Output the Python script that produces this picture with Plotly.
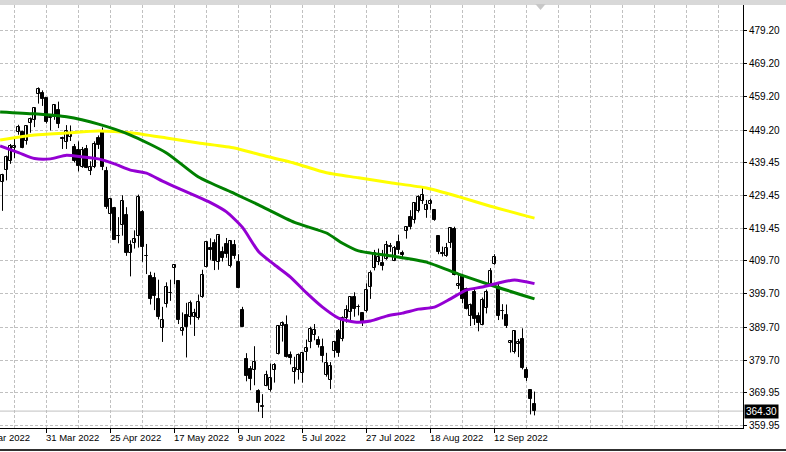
import plotly.graph_objects as go

# ---------------- data ----------------
dates = (
    ["2022-03-%02d" % d for d in [16, 17, 18, 21, 22, 23, 24, 25, 28, 29, 30, 31]]
    + ["2022-04-%02d" % d for d in [1, 4, 5, 6, 7, 8, 11, 12, 13, 14, 18, 19, 20, 21, 22, 25, 26, 27, 28, 29]]
    + ["2022-05-%02d" % d for d in [2, 3, 4, 5, 6, 9, 10, 11, 12, 13, 16, 17, 18, 19, 20, 23, 24, 25, 26, 27, 31]]
    + ["2022-06-%02d" % d for d in [1, 2, 3, 6, 7, 8, 9, 10, 13, 14, 15, 16, 17, 21, 22, 23, 24, 27, 28, 29, 30]]
    + ["2022-07-%02d" % d for d in [1, 5, 6, 7, 8, 11, 12, 13, 14, 15, 18, 19, 20, 21, 22, 25, 26, 27, 28, 29]]
    + ["2022-08-%02d" % d for d in [1, 2, 3, 4, 5, 8, 9, 10, 11, 12, 15, 16, 17, 18, 19, 22, 23, 24, 25, 26, 29, 30, 31]]
    + ["2022-09-%02d" % d for d in [1, 2, 6, 7, 8, 9, 12, 13, 14, 15, 16, 19, 20, 21, 22, 23, 26]]
)

opens = [433.5, 437.0, 440.0, 443.9, 448.6, 448.5, 446.0, 451.2, 452.1, 460.0, 460.3, 458.8,
         453.3, 453.1, 455.2, 446.9, 445.6, 447.0, 444.1, 443.1, 438.0, 443.6, 436.8, 437.9,
         446.9, 448.5, 436.9, 423.7, 425.8, 417.2, 420.4, 423.6,
         412.1, 415.0, 417.1, 424.6, 411.1, 405.1, 404.5, 398.1, 389.4, 396.7, 400.0, 407.4,
         403.5, 388.6, 393.3, 392.8, 392.6, 392.3, 398.7, 407.9, 413.6,
         415.2, 409.4, 412.4, 414.8, 408.1, 414.5, 409.3, 394.9, 379.9, 376.9, 376.6, 370.5,
         365.5, 371.9, 370.6, 376.6, 381.4, 390.0, 390.2, 381.2, 376.2,
         376.6, 375.9, 382.1, 385.1, 387.3, 385.9, 383.7, 375.1, 373.6, 382.6, 388.4, 386.1,
         392.5, 394.2, 398.9, 395.8, 393.8, 394.4, 401.9, 407.6,
         409.2, 409.1, 410.3, 414.0, 409.7, 415.3, 412.2, 418.8, 423.0, 422.0, 424.8, 427.7,
         425.0, 426.9, 425.1, 417.1, 412.0, 411.1, 415.2, 419.4, 402.2, 405.0, 401.2,
         392.9, 400.3, 393.1, 390.4, 395.3, 402.7, 408.8, 401.8, 394.5, 393.3, 384.8, 382.3,
         384.7, 386.1, 376.6, 370.6, 366.4]

highs = [436.0, 441.5, 445.0, 446.5, 450.8, 449.0, 450.7, 453.0, 455.9, 462.1, 461.2, 459.0,
         453.5, 456.9, 457.8, 447.2, 450.7, 450.6, 445.0, 445.8, 444.1, 444.7, 439.8, 445.8,
         447.6, 450.0, 438.1, 428.7, 426.0, 422.9, 429.5, 425.9,
         415.9, 418.9, 429.7, 425.0, 414.8, 406.4, 406.1, 404.0, 395.8, 403.2, 404.0, 408.6,
         403.8, 394.1, 397.0, 397.7, 395.2, 399.5, 407.0, 415.4, 416.5,
         416.2, 417.4, 414.0, 416.6, 415.8, 416.0, 411.7, 395.8, 381.8, 377.9, 383.9, 370.9,
         369.4, 376.5, 378.7, 378.8, 390.1, 391.4, 393.2, 382.3, 380.7,
         381.7, 382.0, 385.9, 389.8, 390.6, 386.9, 386.2, 381.9, 379.1, 385.3, 389.1, 392.9,
         396.3, 398.8, 400.2, 396.5, 394.1, 402.9, 406.8, 413.0,
         413.4, 413.0, 415.7, 415.1, 414.2, 417.6, 412.8, 420.1, 425.0, 427.2, 429.5, 431.7,
         428.1, 428.5, 425.1, 417.1, 414.0, 415.1, 419.6, 420.0, 405.8, 405.8, 401.6,
         396.8, 401.6, 394.1, 398.6, 401.0, 407.5, 411.7, 403.1, 396.6, 396.5, 385.7, 388.6,
         386.1, 389.3, 377.6, 370.6, 370.2]

lows = [424.8, 434.0, 439.0, 440.7, 447.8, 443.7, 444.8, 448.4, 450.1, 457.2, 456.5, 451.2,
        449.1, 452.3, 449.8, 443.5, 443.5, 445.9, 439.4, 436.7, 437.8, 437.7, 435.6, 437.7,
        443.5, 437.1, 425.4, 418.8, 416.1, 415.0, 417.3, 411.2,
        405.0, 413.4, 413.7, 409.4, 405.7, 396.5, 394.8, 392.0, 385.2, 395.6, 397.6, 402.6,
        390.6, 387.1, 380.5, 390.4, 387.0, 391.9, 398.5, 407.7, 410.0,
        406.9, 407.0, 409.5, 410.6, 407.7, 410.3, 401.4, 389.8, 373.3, 370.6, 372.1, 364.1,
        362.2, 371.8, 370.2, 372.9, 381.4, 385.3, 380.5, 378.4, 372.6,
        373.8, 372.9, 379.6, 383.3, 385.7, 383.5, 379.0, 374.7, 371.0, 380.5, 380.7, 385.4,
        391.0, 391.6, 392.8, 393.2, 390.0, 394.1, 398.2, 406.8,
        408.4, 406.8, 410.0, 412.4, 409.6, 411.8, 410.2, 416.4, 419.2, 421.0, 424.3, 426.9,
        422.7, 425.1, 421.8, 411.7, 411.0, 410.9, 413.6, 405.3, 401.2, 396.9, 395.0,
        390.0, 390.3, 388.4, 390.2, 393.8, 402.5, 408.5, 391.8, 392.0, 389.4, 382.0, 381.7,
        380.6, 376.9, 373.4, 363.3, 363.0]

closes = [435.6, 441.1, 444.5, 444.4, 450.0, 443.8, 450.5, 452.7, 455.9, 461.6, 458.7, 451.6,
          452.9, 456.8, 451.0, 446.5, 448.8, 448.4, 439.9, 438.3, 443.3, 437.8, 438.0, 445.0,
          444.7, 438.1, 426.0, 428.5, 416.1, 417.3, 427.8, 412.0,
          414.5, 416.4, 429.1, 413.8, 411.3, 398.2, 399.1, 392.8, 391.9, 401.7, 400.1, 408.3,
          391.9, 389.5, 389.6, 396.9, 393.9, 397.4, 405.3, 415.3, 412.9,
          409.6, 417.4, 410.5, 411.8, 415.7, 411.2, 401.4, 389.8, 375.0, 373.9, 379.2, 366.7,
          365.9, 375.1, 374.4, 378.1, 390.1, 391.0, 380.7, 380.3, 377.3,
          381.2, 382.0, 383.3, 389.0, 388.7, 384.2, 380.8, 378.8, 377.9, 385.1, 382.0, 392.3,
          394.8, 398.8, 395.1, 395.6, 390.9, 401.0, 406.1, 412.0,
          410.8, 408.1, 414.5, 414.2, 413.5, 413.0, 411.4, 420.0, 420.0, 427.1, 428.9, 429.7,
          426.7, 427.9, 422.1, 412.4, 411.8, 413.7, 419.5, 405.3, 402.6, 398.2, 395.2,
          396.4, 392.2, 390.8, 397.8, 400.4, 406.6, 411.0, 393.1, 394.6, 390.1, 385.6, 388.6,
          385.3, 377.4, 374.2, 368.0, 364.3]

# moving averages, read at selected bars (bar index -> value)
ma_yellow_idx = [-0.6, 8, 16, 24, 32, 41, 49, 58, 64, 73, 81, 89, 97, 106, 114, 122, 133]
ma_yellow = [446.2, 447.7, 448.3, 448.9, 448.4, 446.8, 445.3, 443.8, 441.9, 439.2, 436.3,
             434.8, 433.3, 431.7, 429.1, 426.2, 422.6]

ma_green_idx = [-0.6, 8, 16, 24, 32, 41, 49, 58, 64, 73, 81, 85, 89, 97, 106, 114, 122, 133]
ma_green = [454.7, 454.1, 453.2, 451.0, 447.7, 442.3, 435.0, 430.0, 426.6, 421.3, 418.1,
            415.0, 412.7, 411.2, 409.3, 405.7, 402.4, 398.2]

ma_purple_idx = [-0.6, 4, 8, 12, 16, 20, 24, 28, 32, 36, 40, 44, 48, 52, 56, 60, 64, 68, 72,
                 76, 80, 84, 88, 92, 96, 100, 104, 108, 112, 116, 120, 124, 128, 133]
ma_purple = [444.4, 442.4, 440.6, 440.5, 441.6, 441.1, 440.5, 439.0, 437.1, 436.2, 433.8,
             431.6, 429.5, 427.3, 424.5, 419.8, 412.5, 408.5, 404.8, 400.0, 395.7, 392.4,
             391.2, 391.5, 393.0, 393.9, 395.1, 395.7, 398.2, 400.9, 401.8, 403.0, 403.9, 402.8]

price_ticks = [479.20, 469.20, 459.20, 449.20, 439.45, 429.45, 419.45, 409.70, 399.70,
               389.70, 379.70, 369.95, 359.95]
price_tick_labels = ["479.20", "469.20", "459.20", "449.20", "439.45", "429.45", "419.45",
                     "409.70", "399.70", "389.70", "379.70", "369.95", "359.95"]
date_tick_idx = [-5, 11, 27, 43, 59, 75, 91, 107, 123]
date_tick_labels = ["9 Mar 2022", "31 Mar 2022", "25 Apr 2022", "17 May 2022", "9 Jun 2022",
                    "5 Jul 2022", "27 Jul 2022", "18 Aug 2022", "12 Sep 2022"]
last_price = 364.30

# ---------------- layout constants ----------------
W, H = 786, 452
ML, MR, MT, MB = 0, 43, 5, 24
X_RANGE = [-0.625, 185.125]
Y_RANGE = [359.19, 486.99]
FONT = "Tahoma, 'Liberation Sans', Arial, sans-serif"

idx = list(range(len(opens)))

fig = go.Figure()

# wicks
wx, wy = [], []
for i, h, l in zip(idx, highs, lows):
    wx += [i, i, None]
    wy += [l, h, None]
fig.add_trace(go.Scatter(x=wx, y=wy, mode="lines", line=dict(color="black", width=1),
                         hoverinfo="skip", showlegend=False))

# bodies
base = [min(o, c) for o, c in zip(opens, closes)]
height = [max(abs(c - o), 0.08) for o, c in zip(opens, closes)]
colors = ["white" if c >= o else "black" for o, c in zip(opens, closes)]
fig.add_trace(go.Bar(x=idx, y=height, base=base, width=0.62,
                     marker=dict(color=colors, line=dict(color="black", width=1)),
                     customdata=dates, hovertemplate="%{customdata}<extra></extra>",
                     showlegend=False))

# moving averages
for xs, ys, col in [(ma_yellow_idx, ma_yellow, "#FFFF00"),
                    (ma_green_idx, ma_green, "#008000"),
                    (ma_purple_idx, ma_purple, "#9400D3")]:
    fig.add_trace(go.Scatter(x=xs, y=ys, mode="lines",
                             line=dict(color=col, width=3, shape="spline", smoothing=0.6),
                             hoverinfo="skip", showlegend=False))

grid_minor = [v for v in range(3, 186, 8) if v not in date_tick_idx]

fig.update_layout(
    width=W, height=H,
    margin=dict(l=ML, r=MR, t=MT, b=MB, autoexpand=False),
    paper_bgcolor="white", plot_bgcolor="white",
    barmode="overlay", bargap=0,
    font=dict(family=FONT, size=10, color="black"),
    xaxis=dict(range=X_RANGE, fixedrange=True, zeroline=False,
               tickmode="array", tickvals=date_tick_idx, ticktext=[""] * len(date_tick_idx),
               ticks="outside", ticklen=4, tickcolor="black",
               showgrid=True, gridcolor="#c0c0c0", griddash="3px,2px", gridwidth=1,
               minor=dict(tickmode="array", tickvals=grid_minor, showgrid=True,
                          gridcolor="#c0c0c0", griddash="3px,2px", gridwidth=1, ticks=""),
               showline=True, linecolor="black", linewidth=1, mirror=True),
    yaxis=dict(range=Y_RANGE, side="right", fixedrange=True, zeroline=False,
               tickmode="array", tickvals=price_ticks, ticktext=price_tick_labels,
               ticks="outside", ticklen=3, tickcolor="black",
               tickfont=dict(family=FONT, size=10, color="black"),
               showgrid=True, gridcolor="#c0c0c0", griddash="3px,2px", gridwidth=1,
               showline=True, linecolor="black", linewidth=1),
)

# bid line
fig.add_shape(type="line", xref="paper", yref="y", x0=0, x1=1, y0=last_price, y1=last_price,
              line=dict(color="#c0c0c0", width=1), layer="below")

# last price label
fig.add_annotation(xref="paper", yref="y", x=1, y=last_price, xanchor="left", yanchor="middle",
                   xshift=1, text=f"{last_price:.2f}", showarrow=False,
                   font=dict(family=FONT, size=10, color="white"),
                   bgcolor="black", borderpad=1)

# date labels (left-aligned at their tick)
for ti, tl in zip(date_tick_idx, date_tick_labels):
    if X_RANGE[0] <= ti <= X_RANGE[1]:
        fig.add_annotation(xref="x", yref="paper", x=ti, y=0, yshift=-9, xanchor="left",
                           yanchor="middle", xshift=-3, text=tl, showarrow=False,
                           font=dict(family=FONT, size=9.5, color="black"))
    else:
        px = (ti - X_RANGE[0]) / (X_RANGE[1] - X_RANGE[0])
        fig.add_annotation(xref="paper", yref="paper", x=px, y=0, yshift=-9, xanchor="left",
                           yanchor="middle", xshift=-3, text=tl, showarrow=False,
                           font=dict(family=FONT, size=9.5, color="black"))

plot_h = H - MT - MB
# window frame details: top strip, shift marker, bottom edge
fig.add_shape(type="rect", xref="paper", yref="paper", x0=0, x1=W / (W - MR),
              y0=1, y1=1 + MT / plot_h, fillcolor="#d8d8d8", line=dict(width=0))
fig.add_shape(type="path", xref="x", yref="paper",
              path=f"M 133.2 {1 + 1 / plot_h} L 135.8 {1 + 1 / plot_h} L 134.5 {1 - 5 / plot_h} Z",
              fillcolor="#c8c8c8", line=dict(width=0))
fig.add_shape(type="line", xref="paper", yref="paper", x0=0, x1=W / (W - MR),
              y0=-22 / plot_h, y1=-22 / plot_h,
              line=dict(color="#303030", width=2))

fig.write_html("out.html", config={"displayModeBar": False},
               post_script="document.body.style.margin='0';document.body.style.overflow='hidden';")
